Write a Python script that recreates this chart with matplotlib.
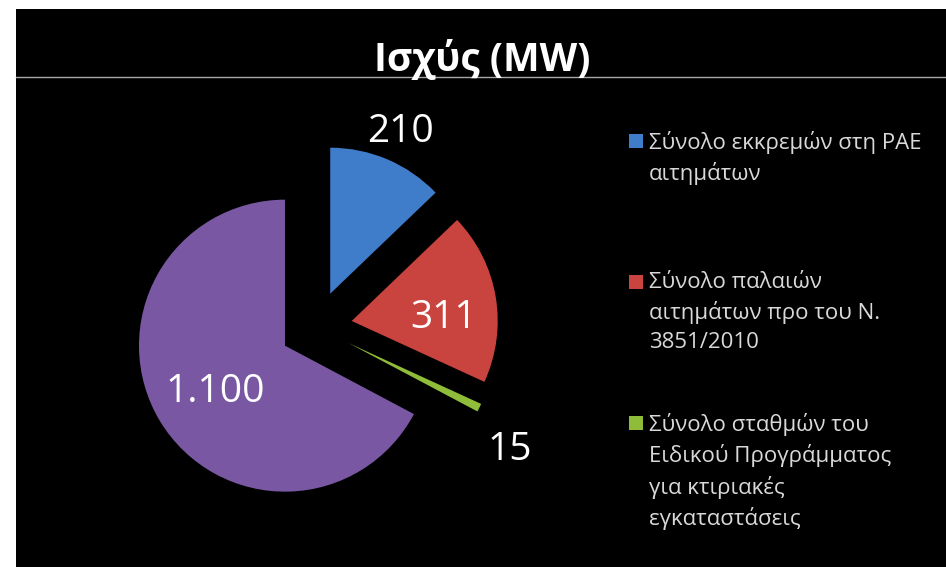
import numpy as np
import matplotlib
matplotlib.use('Agg')
import matplotlib.pyplot as plt
from matplotlib.patches import Rectangle
from matplotlib.lines import Line2D

plt.rcParams['font.family'] = ['Open Sans', 'DejaVu Sans']

# data
title = 'Ισχύς (MW)'
power_mw = [210, 311, 15, 1100]
value_labels = ['210', '311', '15', '1.100']
legend_names = [
    'Σύνολο εκκρεμών στη ΡΑΕ\nαιτημάτων',
    'Σύνολο παλαιών\nαιτημάτων προ του Ν.\n3851/2010',
    'Σύνολο σταθμών του\nΕιδικού Προγράμματος\nγια κτιριακές\nεγκαταστάσεις',
]
colors = ['#3f7cc9', '#c9433f', '#8fbd3a', '#7a57a3']

# label placement: distance from the wedge tip (in radii) and angle tweak
label_dist = [1.235, 0.633, 1.31, 0.56]
label_shift = [0, -5, -6, 0]

W, H = 946, 567
def fx(px):
    return px / W
def fy(py):
    return 1 - py / H

fig = plt.figure(figsize=(W / 100, H / 100), dpi=100, facecolor='white')

# black slide background with a white margin top and left
fig.add_artist(Rectangle((fx(16), 0), 1 - fx(16), fy(9), transform=fig.transFigure,
                         facecolor='black', edgecolor='none', zorder=0))
fig.add_artist(Line2D([fx(16), 1], [fy(77), fy(77)], transform=fig.transFigure,
                      color='#a8a8a8', lw=1, zorder=1))

fig.text(fx(482), fy(71), title, ha='center', va='baseline', fontsize=28,
         fontweight='bold', color='white', zorder=2)

# pie, one data unit = radius = 145 px, centre at (316, 326) px
ax = fig.add_axes([0, 0, 1, 1])
ax.set_facecolor('none')
wedges, _ = ax.pie(power_mw, colors=colors, explode=[0.248] * 4, startangle=90,
                   counterclock=False, radius=1, wedgeprops=dict(linewidth=0))
r_px, cx_px, cy_px = 146, 316, 327
ax.set_xlim(-cx_px / r_px, (W - cx_px) / r_px)
ax.set_ylim(-(H - cy_px) / r_px, cy_px / r_px)
ax.set_aspect('auto')
ax.axis('off')

for w, txt, d, sh in zip(wedges, value_labels, label_dist, label_shift):
    ang = np.deg2rad((w.theta1 + w.theta2) / 2 + sh)
    x0, y0 = w.center
    ax.text(x0 + d * w.r * np.cos(ang), y0 + d * w.r * np.sin(ang), txt,
            ha='center', va='center_baseline', fontsize=28, color='white')

# legend drawn by hand so the marker sits on the first line
for i, (name, col) in enumerate(zip(legend_names, colors)):
    y = 141 + i * 141
    fig.add_artist(Rectangle((fx(629), fy(y + 7)), 14 / W, 14 / H,
                             transform=fig.transFigure, facecolor=col,
                             edgecolor='none'))
    fig.text(fx(649), fy(y - 10), name, ha='left', va='top', fontsize=16,
             color='#d9d9d9', linespacing=1.47)

fig.savefig('out.png', dpi=100, facecolor=fig.get_facecolor())
